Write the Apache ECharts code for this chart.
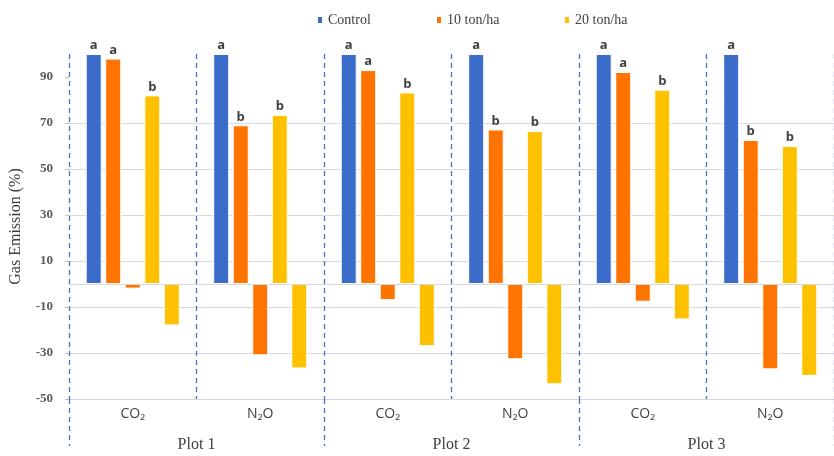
<!DOCTYPE html>
<html>
<head>
<meta charset="utf-8">
<script src="https://cdn.jsdelivr.net/npm/echarts@6/dist/echarts.min.js"></script>
<style>
  html, body { margin: 0; padding: 0; background: #fff; }
  #chart { width: 834px; height: 456px; }
</style>
</head>
<body>
<div id="chart"></div>
<script>
// Gas emission relative to control (%), per gas and plot
const categories = ['CO₂', 'N₂O', 'CO₂', 'N₂O', 'CO₂', 'N₂O'];
const plots = ['Plot 1', 'Plot 2', 'Plot 3'];

const control = [100, 100, 100, 100, 100, 100];
const ton10 = [98, 69, 93, 67.2, 92.2, 62.6];
const ton10Change = [-2, -31, -7, -32.7, -7.7, -37.1];
const ton20 = [82, 73.5, 83.3, 66.5, 84.5, 60];
const ton20Change = [-18, -36.7, -27, -43.6, -15.4, -39.9];

// significance letters shown above the bars
const controlLetters = ['a', 'a', 'a', 'a', 'a', 'a'];
const ton10Letters = ['a', 'b', 'a', 'b', 'a', 'b'];
const ton20Letters = ['b', 'b', 'b', 'b', 'b', 'b'];

const yTicks = [-50, -30, -10, 10, 30, 50, 70, 90];

const COLORS = { control: '#3C6CC9', ton10: '#FF7300', ton20: '#FFC000' };
const SERIF = "'Liberation Serif', 'DejaVu Serif', serif";
const SANS = "'Open Sans', 'Noto Sans', sans-serif";

function letterLabel(letters) {
  return {
    show: true,
    position: 'top',
    distance: 2,
    fontFamily: SANS,
    fontWeight: 'bold',
    fontSize: 13,
    color: '#404040',
    formatter: p => letters[p.dataIndex]
  };
}

const barBase = {
  type: 'bar',
  barWidth: 16,
  barGap: '22%',
  xAxisIndex: 0,
  yAxisIndex: 0,
  animation: false
};

function bar(name, data, color, labels) {
  return Object.assign({}, barBase, {
    name: name,
    data: data,
    itemStyle: { color: color, borderColor: '#ffffff', borderWidth: 1 },
    label: labels ? letterLabel(labels) : { show: false }
  });
}

const series = [
  bar('Control', control, COLORS.control, controlLetters),
  bar('10 ton/ha', ton10, COLORS.ton10, ton10Letters),
  bar('10 ton/ha', ton10Change, COLORS.ton10, null),
  bar('20 ton/ha', ton20, COLORS.ton20, ton20Letters),
  bar('20 ton/ha', ton20Change, COLORS.ton20, null)
];
// zero reference line
series[0].markLine = {
  silent: true,
  symbol: ['none', 'none'],
  label: { show: false },
  lineStyle: { color: '#D9D9D9', type: 'solid', width: 1 },
  data: [{ yAxis: 0 }],
  animation: false
};

function legendAt(name, left) {
  return {
    data: [name],
    left: left,
    top: 8,
    icon: 'rect',
    itemWidth: 6,
    itemHeight: 8,
    textStyle: { fontFamily: SERIF, fontSize: 14, color: '#404040' },
    selectedMode: false
  };
}

const option = {
  backgroundColor: '#ffffff',
  legend: [
    legendAt('Control', 311),
    legendAt('10 ton/ha', 430),
    legendAt('20 ton/ha', 558)
  ],
  grid: { left: 68, right: -9, top: 54, bottom: 57, containLabel: false },
  xAxis: [
    {
      type: 'category',
      data: categories,
      position: 'bottom',
      axisLine: { show: false, onZero: false },
      axisTick: { show: false },
      axisLabel: { margin: 8, fontFamily: SANS, fontSize: 14, color: '#404040' },
      splitLine: {
        show: true,
        lineStyle: { color: '#4472C4', width: 1.3, type: [5, 4] }
      }
    },
    {
      type: 'category',
      data: plots,
      position: 'bottom',
      axisLine: { show: false, onZero: false },
      axisTick: {
        show: true,
        length: 47,
        lineStyle: { color: '#4472C4', width: 1.3, type: [5, 4] }
      },
      axisLabel: { margin: 38, fontFamily: SERIF, fontSize: 16, color: '#404040' },
      splitLine: { show: false }
    }
  ],
  yAxis: {
    type: 'value',
    min: -50,
    max: 100,
    interval: 20,
    name: 'Gas Emission (%)',
    nameLocation: 'middle',
    nameGap: 45,
    nameTextStyle: { fontFamily: SERIF, fontSize: 16, color: '#404040' },
    axisLine: { show: false },
    axisTick: {
      show: true,
      length: 4,
      customValues: yTicks,
      lineStyle: { color: '#BFBFBF' }
    },
    axisLabel: {
      customValues: yTicks,
      margin: 16,
      fontFamily: SERIF,
      fontWeight: 'bold',
      fontSize: 13,
      color: '#595959'
    },
    splitLine: {
      show: true,
      showMaxLine: false,
      lineStyle: { color: '#D9D9D9', width: 1 }
    }
  },
  series: series
};

const chart = echarts.init(document.getElementById('chart'), null, { renderer: 'canvas' });
chart.setOption(option);
</script>
</body>
</html>
